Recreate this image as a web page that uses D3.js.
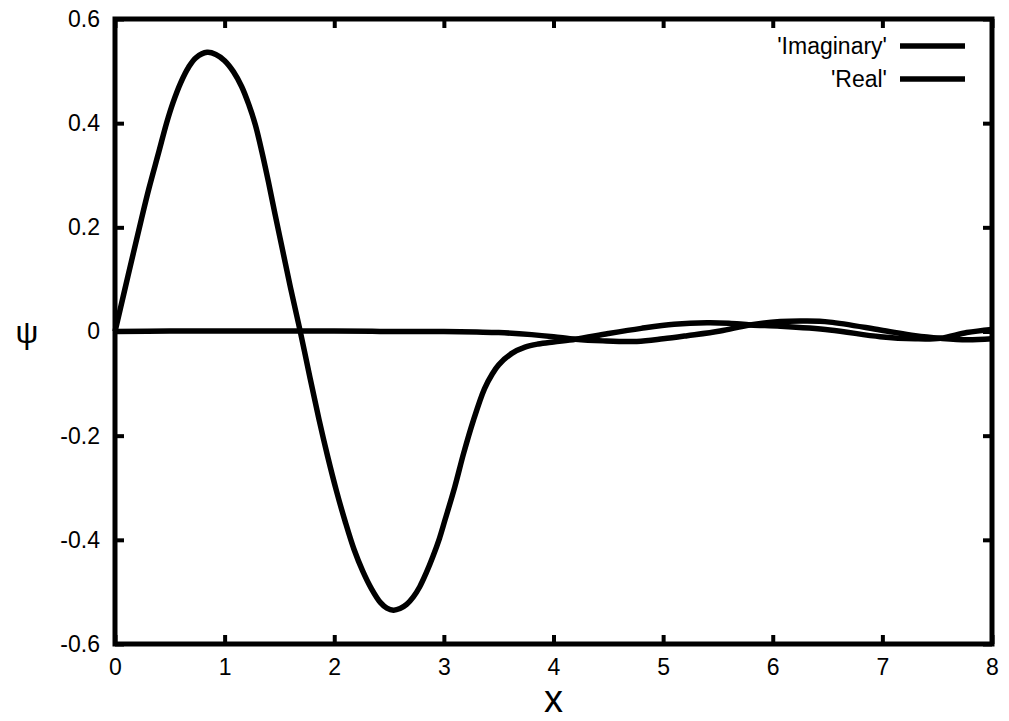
<!DOCTYPE html>
<html>
<head>
<meta charset="utf-8">
<script src="https://cdn.jsdelivr.net/npm/d3@7"></script>
<style>
    body { margin: 0; background: #fff; }
    svg { display: block; }
    .tick line { stroke: #000; stroke-width: 4; }
</style>
</head>
<body>
<div id="chart"></div>
<script>
// x positions and values
let realX = [0, 0.08, 0.167, 0.24, 0.31, 0.40, 0.47, 0.53, 0.60, 0.67, 0.74, 0.84, 0.92, 1.00, 1.08,
    1.156, 1.22, 1.28, 1.34, 1.40, 1.46, 1.53, 1.60, 1.69, 1.78, 1.86, 1.94, 2.02, 2.10, 2.18, 2.26,
    2.34, 2.42, 2.48, 2.54, 2.60, 2.66, 2.72, 2.78, 2.84, 2.90, 2.96, 3.01, 3.10, 3.18, 3.27, 3.37,
    3.44, 3.50, 3.62, 3.74, 3.86, 4.0, 4.2, 4.5, 4.8, 5.1, 5.4, 5.6, 5.8, 6.07, 6.52, 6.98, 7.3,
    7.53, 7.77, 8.0];
let realY = [0, 0.072, 0.150, 0.215, 0.275, 0.345, 0.400, 0.440, 0.478, 0.507, 0.526, 0.536, 0.532, 0.520, 0.499,
    0.470, 0.436, 0.397, 0.345, 0.287, 0.225, 0.155, 0.085, 0.0, -0.090, -0.168, -0.240, -0.306, -0.365, -0.418, -0.460,
    -0.494, -0.520, -0.531, -0.535, -0.532, -0.524, -0.510, -0.490, -0.463, -0.432, -0.397, -0.362, -0.298, -0.234, -0.170, -0.110,
    -0.082, -0.064, -0.042, -0.030, -0.024, -0.020, -0.015, -0.004, 0.006, 0.014, 0.017, 0.016, 0.0125, 0.010, 0.003, -0.010, -0.014,
    -0.013, -0.002, 0.004];

let imagX = [0, 0.5, 1.0, 1.5, 2.0, 2.5, 3.0, 3.3, 3.5, 3.8, 4.0, 4.2, 4.45, 4.76, 5.0, 5.22,
    5.52, 5.79, 6.07, 6.3, 6.52, 6.98, 7.3, 7.53, 7.77, 8.0];
let imagY = [0, 0.001, 0.001, 0.001, 0.001, 0.0, 0.0, -0.001, -0.002, -0.006, -0.010, -0.015, -0.018, -0.019, -0.014, -0.008,
    0.001, 0.0125, 0.019, 0.020, 0.018, 0.003, -0.008, -0.013, -0.016, -0.014];

let xTicks = [0, 1, 2, 3, 4, 5, 6, 7, 8];
let yTicks = [-0.6, -0.4, -0.2, 0, 0.2, 0.4, 0.6];
let legendNames = ["'Imaginary'", "'Real'"];

let width = 1009, height = 721;
let plot = {left: 115, right: 992, top: 19, bottom: 644};
let font = "'Liberation Sans', Arial, Helvetica, sans-serif";

let svg = d3.select("#chart").append("svg")
    .attr("width", width)
    .attr("height", height);

let x = d3.scaleLinear().domain([0, 8]).range([plot.left, plot.right]);
let y = d3.scaleLinear().domain([-0.6, 0.6]).range([plot.bottom, plot.top]);

let fmt = function(d) { return d === 0 ? "0" : d.toFixed(1); };

//Axes with inward ticks on all four sides
svg.append("g")
    .attr("transform", "translate(0," + plot.bottom + ")")
    .call(d3.axisBottom(x).tickValues(xTicks).tickSize(-9).tickPadding(15).tickFormat(d3.format("d")));
svg.append("g")
    .attr("transform", "translate(0," + plot.top + ")")
    .call(d3.axisTop(x).tickValues(xTicks).tickSize(-9).tickFormat(""));
svg.append("g")
    .attr("transform", "translate(" + plot.left + ",0)")
    .call(d3.axisLeft(y).tickValues(yTicks).tickSize(-9).tickPadding(15).tickFormat(fmt));
svg.append("g")
    .attr("transform", "translate(" + plot.right + ",0)")
    .call(d3.axisRight(y).tickValues(yTicks).tickSize(-9).tickFormat(""));

svg.selectAll(".domain").remove();
svg.selectAll(".tick text")
    .style("font-family", font)
    .style("font-size", "23px")
    .attr("fill", "#000");

//Frame around the plot
svg.append("rect")
    .attr("x", plot.left)
    .attr("y", plot.top)
    .attr("width", plot.right - plot.left)
    .attr("height", plot.bottom - plot.top)
    .attr("fill", "none")
    .attr("stroke", "#000")
    .attr("stroke-width", 5);

//Curves
let line = d3.line()
    .x(function(d) { return x(d[0]); })
    .y(function(d) { return y(d[1]); })
    .curve(d3.curveCatmullRom.alpha(0.5));

let series = [d3.zip(imagX, imagY), d3.zip(realX, realY)];
series.forEach(function(pts) {
    svg.append("path")
        .datum(pts)
        .attr("d", line)
        .attr("fill", "none")
        .attr("stroke", "#000")
        .attr("stroke-width", 5.5)
        .attr("stroke-linejoin", "round");
});

//Legend in the top right corner
let legend = svg.append("g").attr("class", "legend");
legendNames.forEach(function(name, i) {
    let ly = 46 + i * 33;
    legend.append("text")
        .attr("x", 887)
        .attr("y", ly)
        .attr("dy", "0.35em")
        .attr("text-anchor", "end")
        .style("font-family", font)
        .style("font-size", "23px")
        .text(name);
    legend.append("line")
        .attr("x1", 900)
        .attr("x2", 965)
        .attr("y1", ly)
        .attr("y2", ly)
        .attr("stroke", "#000")
        .attr("stroke-width", 5.5);
});

//Axis titles
svg.append("text")
    .attr("x", (plot.left + plot.right) / 2)
    .attr("y", 712)
    .attr("text-anchor", "middle")
    .style("font-family", font)
    .style("font-size", "38px")
    .text("x");
svg.append("text")
    .attr("x", 27)
    .attr("y", 332)
    .attr("dy", "0.35em")
    .attr("text-anchor", "middle")
    .style("font-family", font)
    .style("font-size", "32px")
    .text("ψ");
</script>
</body>
</html>
